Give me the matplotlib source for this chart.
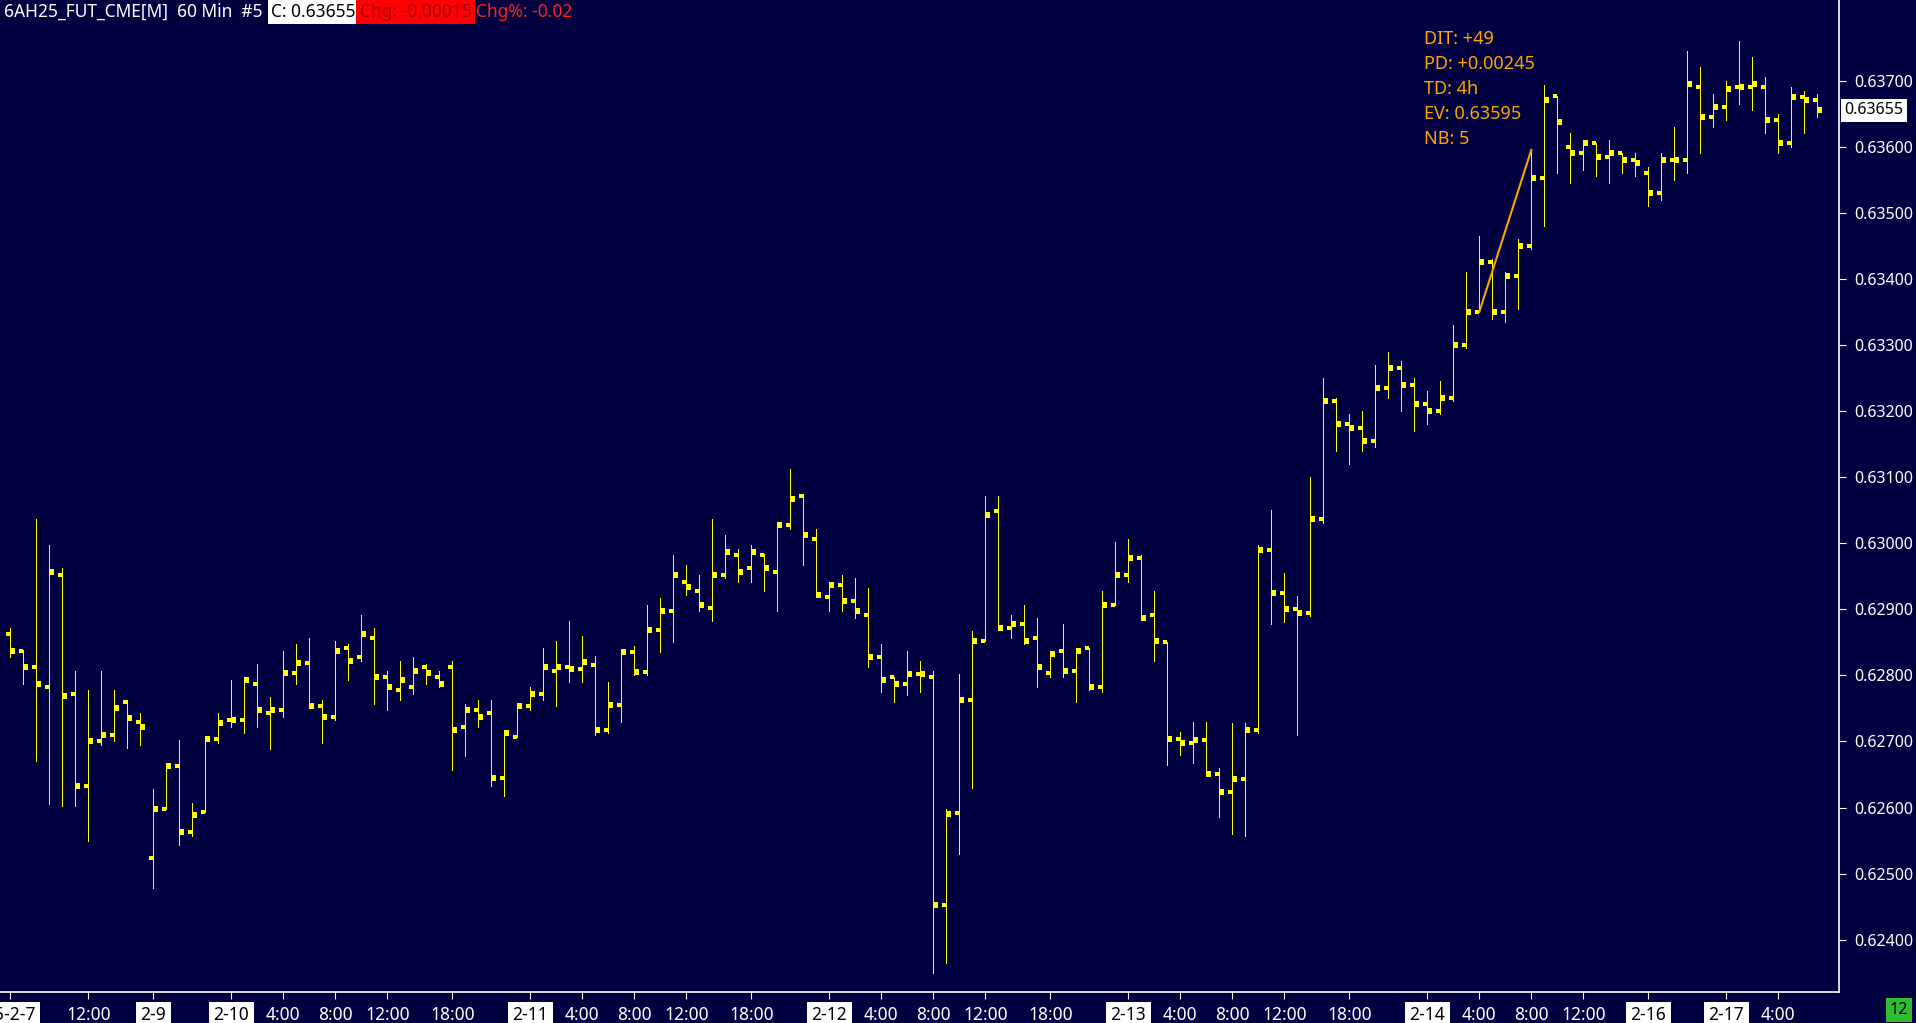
import numpy as np
import matplotlib
matplotlib.use("Agg")
import matplotlib.pyplot as plt

plt.rcParams['font.family'] = ['Noto Sans', 'DejaVu Sans']

# hourly OHLC bars, 6AH25 (2-7 06:00 .. 2-17 07:00)
opens = [0.62863, 0.62837, 0.62813, 0.62783, 0.62952, 0.62772, 0.62632, 0.62700, 0.62710, 0.62760,
         0.62730, 0.62523, 0.62598, 0.62663, 0.62563, 0.62593, 0.62703, 0.62733, 0.62733, 0.62787,
         0.62743, 0.62748, 0.62803, 0.62818, 0.62753, 0.62737, 0.62842, 0.62828, 0.62857, 0.62798,
         0.62778, 0.62783, 0.62813, 0.62798, 0.62813, 0.62722, 0.62748, 0.62743, 0.62644, 0.62707,
         0.62753, 0.62772, 0.62807, 0.62813, 0.62810, 0.62815, 0.62718, 0.62755, 0.62835, 0.62805,
         0.62868, 0.62898, 0.62942, 0.62928, 0.62902, 0.62952, 0.62982, 0.62962, 0.62982, 0.62957,
         0.63028, 0.63072, 0.63007, 0.62918, 0.62937, 0.62913, 0.62892, 0.62828, 0.62798, 0.62787,
         0.62802, 0.62798, 0.62452, 0.62592, 0.62763, 0.62852, 0.63048, 0.62872, 0.62878, 0.62857,
         0.62803, 0.62837, 0.62807, 0.62842, 0.62783, 0.62907, 0.62952, 0.62978, 0.62892, 0.62850,
         0.62703, 0.62698, 0.62702, 0.62650, 0.62623, 0.62643, 0.62717, 0.62990, 0.62925, 0.62900,
         0.62895, 0.63036, 0.63215, 0.63180, 0.63175, 0.63155, 0.63235, 0.63265, 0.63240, 0.63210,
         0.63200, 0.63220, 0.63300, 0.63350, 0.63425, 0.63350, 0.63405, 0.63450, 0.63552, 0.63676,
         0.63600, 0.63590, 0.63605, 0.63585, 0.63590, 0.63580, 0.63560, 0.63530, 0.63580, 0.63580,
         0.63690, 0.63645, 0.63660, 0.63690, 0.63690, 0.63690, 0.63640, 0.63605, 0.63675, 0.63670]
highs = [0.62871, 0.62838, 0.63037, 0.62997, 0.62962, 0.62807, 0.62778, 0.62807, 0.62778, 0.62763,
         0.62743, 0.62628, 0.62667, 0.62702, 0.62607, 0.62705, 0.62743, 0.62793, 0.62797, 0.62817,
         0.62767, 0.62837, 0.62847, 0.62857, 0.62763, 0.62852, 0.62847, 0.62891, 0.62872, 0.62807,
         0.62822, 0.62828, 0.62817, 0.62807, 0.62822, 0.62757, 0.62763, 0.62763, 0.62713, 0.62757,
         0.62782, 0.62841, 0.62852, 0.62882, 0.62860, 0.62830, 0.62790, 0.62840, 0.62845, 0.62906,
         0.62917, 0.62982, 0.62967, 0.62952, 0.63037, 0.63012, 0.62991, 0.62997, 0.62983, 0.63031,
         0.63112, 0.63075, 0.63021, 0.62941, 0.62952, 0.62947, 0.62932, 0.62847, 0.62798, 0.62837,
         0.62822, 0.62806, 0.62597, 0.62802, 0.62867, 0.63071, 0.63071, 0.62891, 0.62906, 0.62887,
         0.62835, 0.62878, 0.62841, 0.62842, 0.62928, 0.63002, 0.63006, 0.62982, 0.62928, 0.62850,
         0.62715, 0.62730, 0.62730, 0.62660, 0.62728, 0.62728, 0.62998, 0.63050, 0.62955, 0.62920,
         0.63100, 0.63250, 0.63220, 0.63195, 0.63200, 0.63270, 0.63290, 0.63275, 0.63250, 0.63230,
         0.63245, 0.63330, 0.63410, 0.63465, 0.63430, 0.63410, 0.63460, 0.63595, 0.63694, 0.63676,
         0.63620, 0.63610, 0.63605, 0.63610, 0.63590, 0.63590, 0.63570, 0.63590, 0.63630, 0.63745,
         0.63720, 0.63680, 0.63700, 0.63760, 0.63735, 0.63705, 0.63650, 0.63690, 0.63685, 0.63680]
lows = [0.62828, 0.62787, 0.62670, 0.62606, 0.62602, 0.62603, 0.62550, 0.62695, 0.62700, 0.62690,
        0.62694, 0.62478, 0.62598, 0.62543, 0.62557, 0.62593, 0.62698, 0.62722, 0.62713, 0.62722,
        0.62688, 0.62737, 0.62787, 0.62753, 0.62698, 0.62733, 0.62793, 0.62822, 0.62757, 0.62748,
        0.62763, 0.62772, 0.62787, 0.62783, 0.62657, 0.62678, 0.62722, 0.62633, 0.62618, 0.62707,
        0.62748, 0.62763, 0.62753, 0.62790, 0.62790, 0.62710, 0.62712, 0.62730, 0.62800, 0.62800,
        0.62835, 0.62850, 0.62922, 0.62897, 0.62882, 0.62948, 0.62942, 0.62942, 0.62928, 0.62897,
        0.63022, 0.62967, 0.62918, 0.62898, 0.62898, 0.62887, 0.62813, 0.62775, 0.62760, 0.62770,
        0.62775, 0.62349, 0.62365, 0.62530, 0.62630, 0.62852, 0.62868, 0.62857, 0.62848, 0.62783,
        0.62798, 0.62798, 0.62760, 0.62778, 0.62775, 0.62907, 0.62942, 0.62887, 0.62822, 0.62665,
        0.62680, 0.62667, 0.62650, 0.62585, 0.62560, 0.62557, 0.62712, 0.62878, 0.62880, 0.62710,
        0.62890, 0.63030, 0.63140, 0.63120, 0.63140, 0.63145, 0.63220, 0.63200, 0.63170, 0.63180,
        0.63195, 0.63215, 0.63295, 0.63350, 0.63340, 0.63335, 0.63355, 0.63445, 0.63480, 0.63560,
        0.63545, 0.63565, 0.63555, 0.63545, 0.63560, 0.63555, 0.63510, 0.63520, 0.63550, 0.63560,
        0.63590, 0.63630, 0.63640, 0.63665, 0.63655, 0.63620, 0.63590, 0.63600, 0.63620, 0.63645]
closes = [0.62837, 0.62813, 0.62787, 0.62957, 0.62768, 0.62632, 0.62700, 0.62710, 0.62750, 0.62735,
          0.62722, 0.62598, 0.62663, 0.62563, 0.62588, 0.62703, 0.62728, 0.62733, 0.62793, 0.62748,
          0.62748, 0.62803, 0.62818, 0.62753, 0.62737, 0.62837, 0.62822, 0.62863, 0.62798, 0.62783,
          0.62793, 0.62807, 0.62803, 0.62787, 0.62718, 0.62748, 0.62737, 0.62644, 0.62713, 0.62753,
          0.62772, 0.62813, 0.62813, 0.62810, 0.62820, 0.62718, 0.62755, 0.62835, 0.62805, 0.62868,
          0.62898, 0.62952, 0.62933, 0.62906, 0.62952, 0.62987, 0.62957, 0.62987, 0.62963, 0.63028,
          0.63067, 0.63013, 0.62922, 0.62937, 0.62913, 0.62898, 0.62828, 0.62793, 0.62787, 0.62802,
          0.62802, 0.62452, 0.62590, 0.62763, 0.62852, 0.63042, 0.62872, 0.62878, 0.62852, 0.62813,
          0.62833, 0.62807, 0.62837, 0.62783, 0.62907, 0.62952, 0.62978, 0.62887, 0.62852, 0.62703,
          0.62698, 0.62702, 0.62650, 0.62623, 0.62643, 0.62717, 0.62990, 0.62925, 0.62900, 0.62895,
          0.63036, 0.63215, 0.63180, 0.63175, 0.63155, 0.63235, 0.63265, 0.63240, 0.63210, 0.63200,
          0.63220, 0.63300, 0.63350, 0.63425, 0.63350, 0.63405, 0.63450, 0.63552, 0.63671, 0.63637,
          0.63590, 0.63605, 0.63585, 0.63590, 0.63580, 0.63575, 0.63530, 0.63580, 0.63580, 0.63695,
          0.63645, 0.63660, 0.63688, 0.63690, 0.63695, 0.63640, 0.63605, 0.63675, 0.63670, 0.63655]

# x axis labels (bar index -> text), dates get a white box
tick_idx = [0, 6, 11, 17, 21, 25, 29, 34, 40, 44, 48, 52, 57, 63, 67, 71, 75, 80,
            86, 90, 94, 98, 103, 109, 113, 117, 121, 126, 132, 136]
tick_lbl = ['25-2-7', '12:00', '2-9', '2-10', '4:00', '8:00', '12:00', '18:00',
            '2-11', '4:00', '8:00', '12:00', '18:00', '2-12', '4:00', '8:00', '12:00', '18:00',
            '2-13', '4:00', '8:00', '12:00', '18:00', '2-14', '4:00', '8:00', '12:00',
            '2-16', '2-17', '4:00']
price_ticks = [0.624, 0.625, 0.626, 0.627, 0.628, 0.629, 0.630,
               0.631, 0.632, 0.633, 0.634, 0.635, 0.636, 0.637]

# drawing tool: from 2-14 4:00 low to 8:00 high
line_start, line_end = 113, 117
tick_size = 0.00005

BG = '#000040'
YEL = '#ffff00'
ORANGE = '#ffa500'
W, H = 1916, 1023

fig = plt.figure(figsize=(W / 100, H / 100), dpi=100, facecolor=BG)
ax = fig.add_axes([0, 1 - 992 / H, 1839 / W, 992 / H])
ax.set_facecolor(BG)

x = np.arange(len(closes))
ax.vlines(x, lows, highs, colors=YEL, lw=0.7, antialiased=False)
ax.hlines(opens, x - 0.33, x, colors=YEL, lw=1.5, antialiased=False)
ax.hlines(closes, x, x + 0.36, colors=YEL, lw=3.0, antialiased=False)

p0 = lows[line_start]
p1 = highs[line_end]
ax.plot([line_start, line_end], [p0, p1], color=ORANGE, lw=1.5)

ax.set_xlim(-10.3 / 13, (1839 - 10.3) / 13)
ax.set_ylim(0.623208, 0.638220)

for s in ['top', 'left']:
    ax.spines[s].set_visible(False)
for s in ['right', 'bottom']:
    ax.spines[s].set_color('white')
    ax.spines[s].set_linewidth(1.2)

ax.yaxis.tick_right()
ax.set_yticks(price_ticks)
ax.set_yticklabels(['%.5f' % p for p in price_ticks])
ax.tick_params(axis='y', colors='white', labelsize=11.5, length=5, pad=6)

ax.set_xticks(tick_idx)
ax.set_xticklabels(tick_lbl)
ax.tick_params(axis='x', colors='white', labelsize=12.5, length=5, pad=5)
for lbl in ax.get_xticklabels():
    if '-' in lbl.get_text():
        lbl.set_color('black')
        lbl.set_bbox(dict(boxstyle='square,pad=0.25', fc='white', ec='none'))

# last price marker on the axis
ax.annotate('%.5f' % closes[-1], xy=(1, closes[-1]), xycoords=('axes fraction', 'data'),
            xytext=(4, 0), textcoords='offset points', ha='left', va='center',
            fontsize=11.5, color='black',
            bbox=dict(boxstyle='square,pad=0.2', fc='white', ec='none'))

# header line
chg = closes[-1] - closes[-2]
chg_pct = chg / closes[-2] * 100
renderer = fig.canvas.get_renderer()
header = [('6AH25_FUT_CME[M]  60 Min  #5 ', 'white', None),
          ('C: %.5f' % closes[-1], 'black', 'white'),
          ('Chg: %.5f' % chg, '#a00000', '#ff0000'),
          ('Chg%%: %.2f' % chg_pct, '#ff2020', None)]
xpos = 4
for txt, col, bg in header:
    kw = {}
    if bg:
        kw['bbox'] = dict(boxstyle='square,pad=0.2', fc=bg, ec='none')
    t = fig.text(xpos / W, 1 - 12 / H, txt, color=col, fontsize=12.5,
                 ha='left', va='center', **kw)
    bb = t.get_window_extent(renderer)
    xpos = bb.x1 + 4

# drawing tool readout
dit = round((p1 - p0) / tick_size)
info = ['DIT: %+d' % dit, 'PD: %+.5f' % (p1 - p0), 'TD: %dh' % (line_end - line_start),
        'EV: %.5f' % p1, 'NB: %d' % (line_end - line_start + 1)]
for k, s in enumerate(info):
    fig.text(1424 / W, 1 - (39 + 25 * k) / H, s, color=ORANGE, fontsize=13,
             ha='left', va='center')

fig.text(1899 / W, 1 - 1010 / H, '12', color='black', fontsize=11.5, ha='center', va='center',
         bbox=dict(boxstyle='square,pad=0.25', fc='#2ebd2e', ec='none'))

fig.savefig('out.png', dpi=100, facecolor=BG)
